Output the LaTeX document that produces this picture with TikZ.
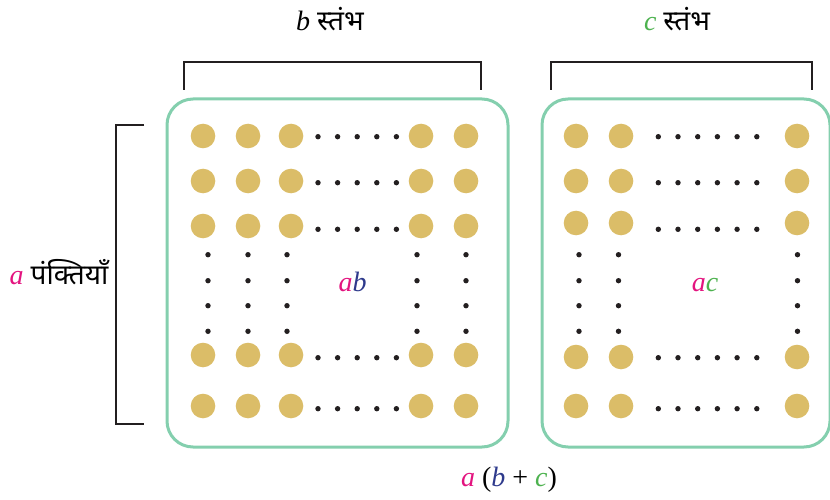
\documentclass[tikz,border=0pt]{standalone}
\usepackage{fontspec}
\setmainfont{Liberation Serif}
\newfontfamily\deva[Script=Devanagari]{Noto Sans}
\definecolor{varA}{HTML}{E3147F}
\definecolor{varB}{HTML}{2E3A8C}
\definecolor{varC}{HTML}{4DB24F}
\definecolor{frameG}{HTML}{84CFAE}
\definecolor{bead}{HTML}{DBBD68}
\definecolor{ink}{HTML}{231F20}
\tikzset{
  panel/.style={draw=frameG, line width=3pt, rounded corners=26pt},
  brace/.style={draw=ink, line width=2.6pt},
  lbl/.style={inner sep=0pt, font=\fontsize{28}{32}\selectfont},
  bigdot/.style={fill=bead},
  smalldot/.style={fill=ink}
}
\newcommand{\bigd}[2]{\fill[bigdot] (#1,#2) circle (12.3);}
\newcommand{\smd}[2]{\fill[smalldot] (#1,#2) circle (2.7);}
\begin{document}
\begin{tikzpicture}[x=1pt,y=-1pt]
\useasboundingbox (0,0) rectangle (830,500);
% the two panels
\draw[panel] (167,99) rectangle (508,447);
\begin{scope}
\clip (530,85) rectangle (830,460);
\draw[panel] (542,99) rectangle (830,447);
\end{scope}
% brackets
\draw[brace] (184,90) -- (184,62) -- (481,62) -- (481,90);
\draw[brace] (551,90) -- (551,62) -- (812,62) -- (812,90);
\draw[brace] (144,125) -- (116,125) -- (116,424) -- (144,424);
% left panel: beads
\foreach \y in {136,181,226,355,406}{
  \foreach \x in {203,248,291,421,466}{\bigd{\x}{\y}}
}
\foreach \y in {136.7,182.7,229.3,357.7,408.7}{
  \foreach \x in {318,337.6,357.2,376.8,396.4}{\smd{\x}{\y}}
}
\foreach \x in {208,248,287,417,466}{
  \foreach \y in {254.7,280.7,305.7,331.3}{\smd{\x}{\y}}
}
% right panel: beads
\foreach \y/\s in {136/136.7,181/182.7,223/229.3,357/357.7,406/408.7}{
  \foreach \x in {576,621,797}{\bigd{\x}{\y}}
  \foreach \x in {658.3,678,697.7,717.4,737.1,756.8}{\smd{\x}{\s}}
}
\foreach \x in {579,618.5,797.5}{
  \foreach \y in {254.7,280.7,305.7,331.3}{\smd{\x}{\y}}
}
% labels
\node[lbl] (lb) at (330,19) {\textit{b} {\deva स्तंभ}};
\node[lbl] (lc) at (677,19) {\textcolor{varC}{\textit{c}} {\deva स्तंभ}};
\node[lbl] (la) at (59,272) {\textcolor{varA}{\textit{a}} {\deva पंक्तियाँ}};
\node[lbl] (pab) at (352.5,282) {\textcolor{varA}{\textit{a}}\textcolor{varB}{\textit{b}}};
\node[lbl] (pac) at (705,285) {\textcolor{varA}{\textit{a}}\textcolor{varC}{\textit{c}}};
\node[lbl] (sum) at (509,480) {\textcolor{varA}{\textit{a}} (\textcolor{varB}{\textit{b}} + \textcolor{varC}{\textit{c}})};
\end{tikzpicture}
\end{document}
